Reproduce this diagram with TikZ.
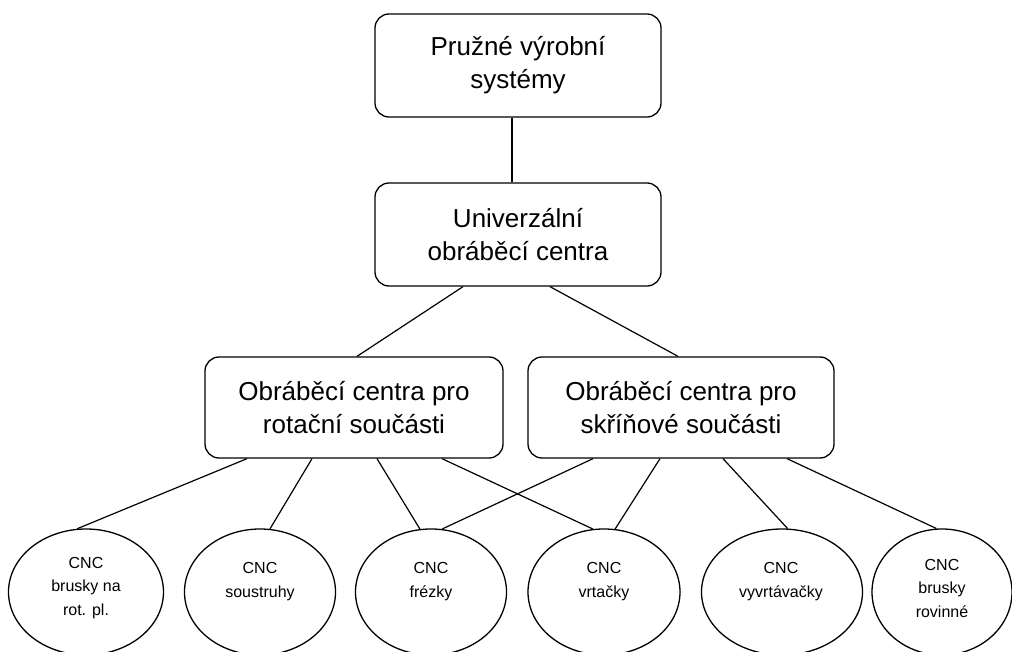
\documentclass[tikz,border=0pt]{standalone}
\usepackage{fontspec}
\setmainfont{Liberation Sans}
\usetikzlibrary{shapes.geometric}
\begin{document}
\begin{tikzpicture}[x=1pt,y=-1pt,
  box/.style={draw,line width=1.3pt,rounded corners=14pt,inner sep=0pt,align=center,
    font=\fontsize{26}{33}\selectfont},
  ell/.style={draw,line width=1.3pt,ellipse,inner sep=0pt,minimum height=126pt},
  etxt/.style={align=center,inner sep=0pt,font=\fontsize{16}{23.5}\selectfont},
  conn/.style={line width=1.2pt}]
\useasboundingbox (0,0) rectangle (1012,652);
\clip (0,0) rectangle (1012,652);
\node[box,minimum width=286pt,minimum height=103pt] (top) at (518,65.5) {Pružné výrobní\\systémy};
\node[box,minimum width=286pt,minimum height=103pt] (uni) at (518,234.5) {Univerzální\\obráběcí centra};
\node[box,minimum width=298pt,minimum height=101pt] (rot) at (354,407.5) {Obráběcí centra pro\\rotační součásti};
\node[box,minimum width=306pt,minimum height=101pt] (skr) at (681,407.5) {Obráběcí centra pro\\skříňové součásti};

\node[ell,minimum width=155pt] (e1) at (86,592) {};
\node[ell,minimum width=151pt] (e2) at (260,592) {};
\node[ell,minimum width=151pt] (e3) at (431,592) {};
\node[ell,minimum width=152pt] (e4) at (604,592) {};
\node[ell,minimum width=161pt] (e5) at (782,592) {};
\node[ell,minimum width=140pt] (e6) at (942,592) {};

\node[etxt] (t1) at (86,588) {CNC\\brusky na\\rot. pl.};
\node[etxt] (t2) at (260,581.5) {CNC\\soustruhy};
\node[etxt] (t3) at (431,581.5) {CNC\\frézky};
\node[etxt] (t4) at (604,581.5) {CNC\\vrtačky};
\node[etxt] (t5) at (781,581.5) {CNC\\vyvrtávačky};
\node[etxt] (t6) at (942,588) {CNC\\brusky\\rovinné};

\draw[conn] ([xshift=-6pt]top.south) -- ([xshift=-6pt]uni.north);
\draw[conn] ([xshift=-55pt]uni.south) -- ([xshift=3pt]rot.north);
\draw[conn] ([xshift=32pt]uni.south) -- ([xshift=-3pt]skr.north);

\draw[conn] ([xshift=-107pt]rot.south) -- (e1.98);
\draw[conn] ([xshift=-42pt]rot.south) -- (e2.81);
\draw[conn] ([xshift=23pt]rot.south) -- (e3.100);
\draw[conn] ([xshift=88pt]rot.south) -- (e4.100);

\draw[conn] ([xshift=-88pt]skr.south) -- (e3.80);
\draw[conn] ([xshift=-21pt]skr.south) -- (e4.80);
\draw[conn] ([xshift=42pt]skr.south) -- (e5.85);
\draw[conn] ([xshift=106pt]skr.south) -- (e6.95);
\end{tikzpicture}
\end{document}
